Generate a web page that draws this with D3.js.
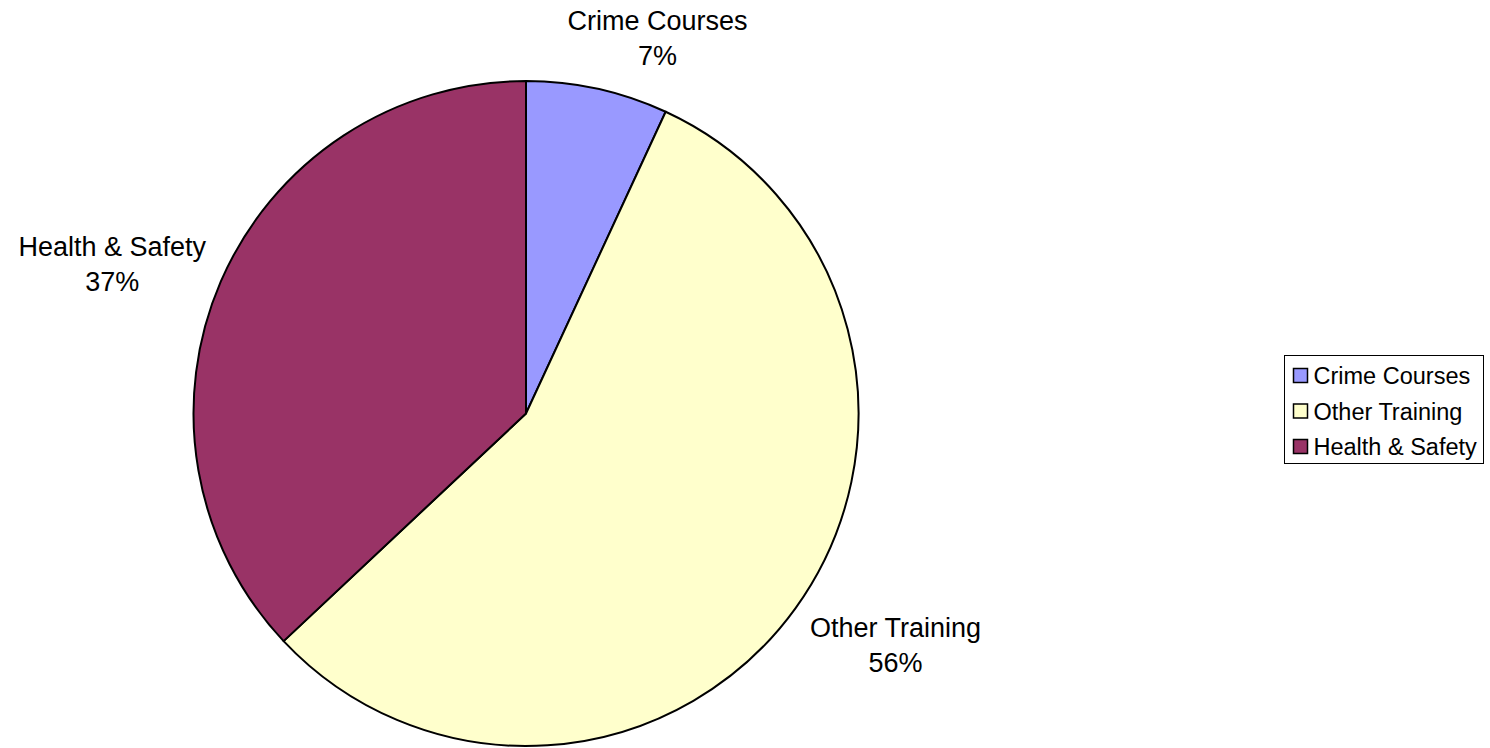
<!DOCTYPE html>
<meta charset="utf-8">
<head>
  <title>Training pie</title>
</head>
<style>
  body { margin: 0; background: #fff; }
  .lbl { font: 27px "Liberation Sans", Arial, sans-serif; fill: #000; text-anchor: middle; }
  .leg { font: 23.5px "Liberation Sans", Arial, sans-serif; fill: #000; }
</style>
<body>
<script src="https://d3js.org/d3.v7.min.js"></script>
<script>
var categories = ["Crime Courses", "Other Training", "Health & Safety"];
var values = [6.9, 56.1, 37.0];
var pctLabels = ["7%", "56%", "37%"];
var colours = ["#9999FF", "#FFFFCC", "#993366"];

var width = 1490, height = 748;
var cx = 526, cy = 413.5, r = 332.5;

var svg = d3.select("body").append("svg")
    .attr("width", width)
    .attr("height", height);

var data = categories.map(function(c, i) {
  return { name: c, value: values[i], pct: pctLabels[i], colour: colours[i] };
});

var pie = d3.pie().sort(null).value(function(d) { return d.value; });
var arc = d3.arc().innerRadius(0).outerRadius(r);

var g = svg.append("g").attr("transform", "translate(" + cx + "," + cy + ")");

var arcs = pie(data);

g.selectAll("path")
    .data(arcs)
  .enter().append("path")
    .attr("d", arc)
    .attr("fill", function(d) { return d.data.colour; })
    .attr("stroke", "#000")
    .attr("stroke-width", 2)
    .attr("stroke-linejoin", "round");

// outside labels: along the slice's mid angle, then nudged
var labelPos = [
  { dist: 1.155, dx: 49, dy: 0 },    // crime
  { dist: 1.311, dx: 16, dy: -24 },  // other
  { dist: 1.323, dx: -10, dy: 25 }   // health
];
arcs.forEach(function(a, i) {
  var mid = (a.startAngle + a.endAngle) / 2;
  var k = r * labelPos[i].dist;
  var x = Math.sin(mid) * k + labelPos[i].dx,
      y = -Math.cos(mid) * k + labelPos[i].dy;
  var t = g.append("text").attr("class", "lbl")
      .attr("transform", "translate(" + x + "," + y + ")");
  t.append("tspan").attr("x", 0).attr("y", -8).text(a.data.name);
  t.append("tspan").attr("x", 0).attr("y", 27).text(a.data.pct);
});

// legend
var legend = svg.append("g").attr("transform", "translate(1284.5,355.5)");
legend.append("rect")
    .attr("width", 199).attr("height", 108)
    .attr("fill", "#fff").attr("stroke", "#000").attr("stroke-width", 1);

var rows = legend.selectAll("g.row")
    .data(data)
  .enter().append("g")
    .attr("class", "row")
    .attr("transform", function(d, i) { return "translate(0," + (20 + i * 35.5) + ")"; });

rows.append("rect")
    .attr("x", 9).attr("y", -7)
    .attr("width", 14).attr("height", 14)
    .attr("fill", function(d) { return d.colour; })
    .attr("stroke", "#000").attr("stroke-width", 1.5);

rows.append("text")
    .attr("class", "leg")
    .attr("x", 29).attr("y", 8.5)
    .text(function(d) { return d.name; });
</script>
</body>
